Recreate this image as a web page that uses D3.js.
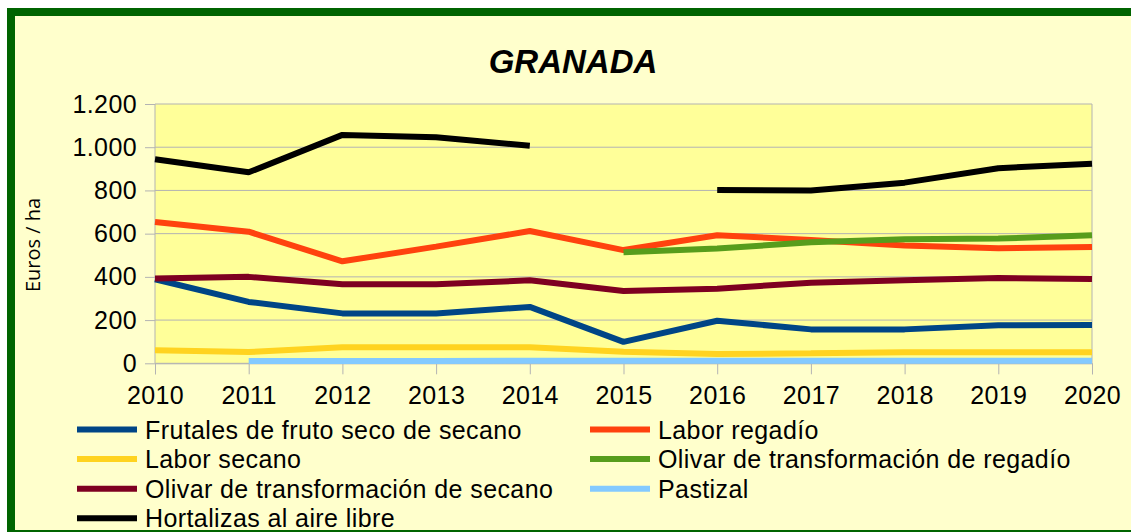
<!DOCTYPE html>
<html>
<head>
<meta charset="utf-8">
<script src="https://cdn.jsdelivr.net/npm/d3@7"></script>
<style>
  html, body { margin: 0; padding: 0; background: #fff; }
  svg { display: block; }
</style>
</head>
<body>
<svg id="chart" width="1131" height="532"></svg>
<script>
var years = [2010, 2011, 2012, 2013, 2014, 2015, 2016, 2017, 2018, 2019, 2020];
var yTicks = [0, 200, 400, 600, 800, 1000, 1200];

var seriesNames = [
  "Frutales de fruto seco de secano",
  "Labor regadío",
  "Labor secano",
  "Olivar de transformación de regadío",
  "Olivar de transformación de secano",
  "Pastizal",
  "Hortalizas al aire libre"
];
var seriesColors = ["#004586", "#ff420e", "#ffd320", "#579d1c", "#7e0021", "#83caff", "#000000"];

var frutales   = [389, 284, 231, 231, 261, 99, 197, 157, 157, 176, 177];
var laborReg   = [654, 609, 472, 540, 612, 524, 593, 571, 545, 532, 538];
var laborSec   = [60, 52, 74, 74, 74, 54, 43, 46, 51, 51, 51];
var olivarReg  = [null, null, null, null, null, 514, 531, 560, 574, 577, 593];
var olivarSec  = [392, 400, 366, 366, 384, 335, 345, 373, 384, 395, 390];
var pastizal   = [null, 11, 11, 11, 12, 12, 12, 12, 12, 12, 12];
var hortalizas = [944, 884, 1057, 1046, 1007, null, 802, 800, 836, 903, 924];

var seriesValues = [frutales, laborReg, laborSec, olivarReg, olivarSec, pastizal, hortalizas];

var svg = d3.select("#chart");
var fmt = d3.formatLocale({decimal: ",", thousands: ".", grouping: [3], currency: ["", "€"]}).format(",d");
var FONT = "Liberation Sans, Arial, sans-serif";

// page frame
svg.append("rect")
  .attr("x", 11).attr("y", 12)
  .attr("width", 1200).attr("height", 522)
  .attr("fill", "#ffffcc")
  .attr("stroke", "#006400")
  .attr("stroke-width", 8);

var m = {left: 155, right: 1092, top: 104, bottom: 363.3};

var x = d3.scaleLinear().domain([2010, 2020]).range([m.left, m.right]);
var y = d3.scaleLinear().domain([0, 1200]).range([m.bottom, m.top]);

// plot background
svg.append("rect")
  .attr("x", m.left).attr("y", m.top)
  .attr("width", m.right - m.left).attr("height", m.bottom - m.top)
  .attr("fill", "#ffff99");

// y ticks
var yAxis = svg.append("g")
  .attr("transform", "translate(" + m.left + ",0)")
  .call(d3.axisLeft(y).tickValues(yTicks).tickSize(10).tickPadding(8).tickFormat(fmt));
yAxis.select(".domain").remove();
yAxis.selectAll("line").attr("stroke", "#b3b3b3");
yAxis.selectAll("text")
  .attr("fill", "#000")
  .style("font-family", FONT)
  .style("font-size", "25px")
  .style("letter-spacing", "0.4px");

// gridlines
svg.append("g")
  .selectAll("line")
  .data(yTicks)
  .enter().append("line")
  .attr("x1", m.left).attr("x2", m.right)
  .attr("y1", function(d) { return y(d); })
  .attr("y2", function(d) { return y(d); })
  .attr("stroke", "#b3b3b3")
  .attr("stroke-width", 1);

svg.append("line")
  .attr("x1", m.right).attr("x2", m.right)
  .attr("y1", m.top).attr("y2", m.bottom)
  .attr("stroke", "#b3b3b3");

var xAxis = svg.append("g")
  .attr("transform", "translate(0," + m.bottom + ")")
  .call(d3.axisBottom(x).tickValues(years).tickSize(11).tickPadding(12).tickFormat(d3.format("d")));
xAxis.select(".domain").attr("stroke", "#b3b3b3");
xAxis.selectAll("line").attr("stroke", "#b3b3b3");
xAxis.selectAll("text")
  .attr("fill", "#000")
  .style("font-family", FONT)
  .style("font-size", "25px")
  .style("letter-spacing", "0.4px");

svg.append("line")
  .attr("x1", m.left).attr("x2", m.left)
  .attr("y1", m.top).attr("y2", m.bottom)
  .attr("stroke", "#b3b3b3");

// lines
var line = d3.line()
  .defined(function(d) { return d != null; })
  .x(function(d, i) { return x(years[i]); })
  .y(function(d) { return y(d); });

svg.append("g")
  .selectAll("path")
  .data(seriesValues)
  .enter().append("path")
  .attr("d", function(d) { return line(d); })
  .attr("fill", "none")
  .attr("stroke", function(d, i) { return seriesColors[i]; })
  .attr("stroke-width", 6)
  .attr("stroke-linejoin", "bevel");

// title
svg.append("text")
  .attr("x", 573).attr("y", 73)
  .attr("text-anchor", "middle")
  .style("font-family", FONT)
  .style("font-size", "33px")
  .style("font-weight", "bold")
  .style("font-style", "italic")
  .text("GRANADA");

// y axis title
svg.append("text")
  .attr("transform", "translate(40,245) rotate(-90)")
  .attr("text-anchor", "middle")
  .style("font-family", "Open Sans, sans-serif")
  .style("font-size", "20px")
  .text("Euros / ha");

// legend
var legend = svg.append("g")
  .selectAll("g")
  .data(seriesNames)
  .enter().append("g")
  .attr("transform", function(d, i) {
    return "translate(" + (i % 2 ? 590 : 77) + "," + (429.5 + Math.floor(i / 2) * 29.6) + ")";
  });

legend.append("line")
  .attr("x1", 0).attr("x2", 60)
  .attr("stroke", function(d, i) { return seriesColors[i]; })
  .attr("stroke-width", 6);

legend.append("text")
  .attr("x", 68).attr("y", 9)
  .style("font-family", FONT)
  .style("font-size", "25px")
  .style("letter-spacing", "0.4px")
  .text(function(d) { return d; });
</script>
</body>
</html>
